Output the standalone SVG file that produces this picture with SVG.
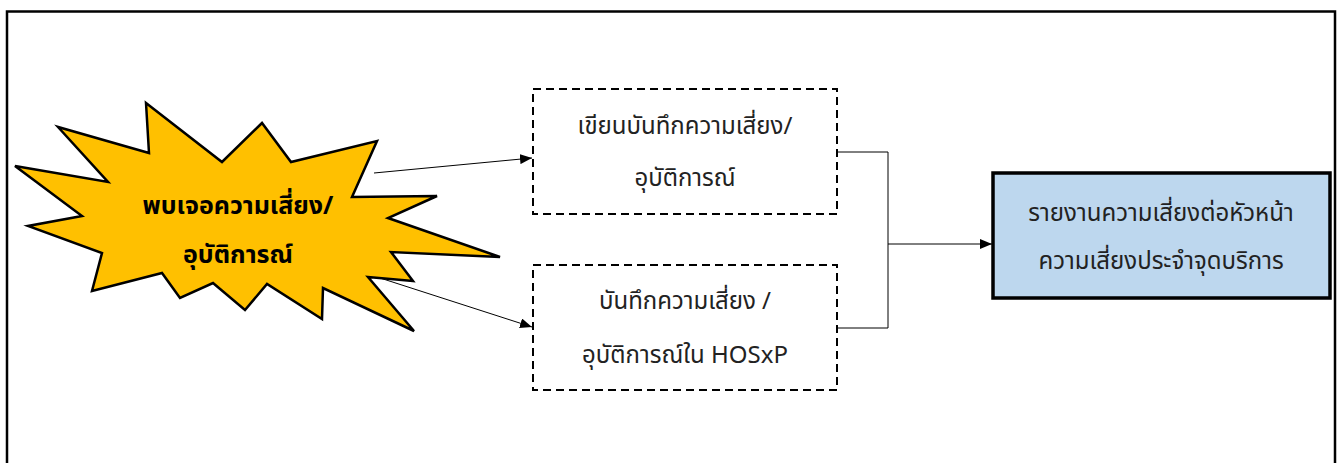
<svg xmlns="http://www.w3.org/2000/svg" width="1343" height="463" viewBox="0 0 1343 463">
<style>
.t{font-family:"Noto Sans Thai","Noto Sans","DejaVu Sans",sans-serif;font-size:24px;fill:#222;text-anchor:middle}
.b{font-weight:bold;fill:#000;font-size:25px}
.dash{fill:#fff;stroke:#000;stroke-width:2;stroke-dasharray:8 5}
.ln{fill:none;stroke:#000;stroke-width:1}
</style>
<defs>
<marker id="ah" markerWidth="12" markerHeight="10" refX="12" refY="5" orient="auto" markerUnits="userSpaceOnUse">
<path d="M0,0 L12,5 L0,10 Z" fill="#000"/>
</marker>
</defs>
<rect x="7" y="11.5" width="1328" height="470" fill="#fff" stroke="#000" stroke-width="2.5"/>
<g id="connectors">
<line class="ln" x1="374" y1="173" x2="532" y2="158" marker-end="url(#ah)"/>
<line class="ln" x1="377" y1="277" x2="532" y2="327" marker-end="url(#ah)"/>
<polyline class="ln" points="837,152 888,152 888,328 837,328"/>
<line class="ln" x1="888" y1="244" x2="992" y2="244" marker-end="url(#ah)"/>
</g>
<g id="event">
<polygon points="146,103 222,162 262,123 291,162 377,141 352,197 437,196 388,218 500,257 391,252 413,281 368,277 414,331 323,288 322,319 267,284 245,310 213,283 180,298 162,273 92,291 102,253 28,226 82,216 15,166 108,182 58,127 149,153" fill="#FFC000" stroke="#000" stroke-width="2.5" stroke-linejoin="miter"/>
<text class="t b" x="238" y="214">พบเจอความเสี่ยง/</text>
<text class="t b" x="238" y="263">อุบัติการณ์</text>
</g>
<g id="write">
<rect class="dash" x="533" y="89" width="304" height="125"/>
<text class="t" x="685" y="134">เขียนบันทึกความเสี่ยง/</text>
<text class="t" x="685" y="186">อุบัติการณ์</text>
</g>
<g id="hosxp">
<rect class="dash" x="533" y="265" width="304" height="125"/>
<text class="t" x="685" y="309">บันทึกความเสี่ยง /</text>
<text class="t" x="685" y="363">อุบัติการณ์ใน HOSxP</text>
</g>
<g id="report">
<rect x="993" y="173" width="337" height="125" fill="#BDD7EE" stroke="#000" stroke-width="3.5"/>
<text class="t" x="1161" y="221">รายงานความเสี่ยงต่อหัวหน้า</text>
<text class="t" x="1161" y="269">ความเสี่ยงประจำจุดบริการ</text>
</g>
</svg>
